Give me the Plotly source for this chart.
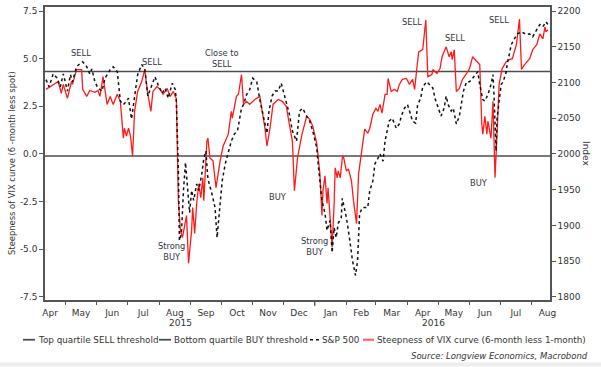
import pandas as pd
import plotly.graph_objects as go

# ---------------- data ----------------
start_date = "2015-04-11"          # day 0 of the offsets below
axis_end = "2016-08-19"

# Steepness of VIX curve (6-month less 1-month): day offsets from start_date, values
vix_day = [1, 5, 10, 13, 16, 18, 22, 26, 27, 31, 36, 37, 41, 44, 49, 52, 54, 57, 61, 64,
           67, 71, 74, 77, 78, 80, 82, 84, 86, 88, 91, 95, 98, 101, 104, 106, 110, 113, 116, 120,
           123, 126, 128, 129, 131, 133, 135, 137, 139, 141, 144, 145, 147, 149, 151, 153, 155, 156, 158, 159,
           160, 162, 165, 168, 172, 175, 180, 183, 184, 188, 190, 193, 195, 198, 201, 206, 211, 213, 216, 218,
           221, 224, 229, 233, 237, 240, 243, 245, 248, 252, 257, 260, 263, 267, 268, 270, 272, 273, 275, 277,
           278, 280, 282, 284, 285, 287, 288, 290, 292, 293, 296, 298, 301, 303, 306, 308, 311, 314, 317, 319,
           322, 325, 327, 329, 331, 334, 336, 337, 340, 343, 346, 348, 351, 355, 358, 361, 363, 365, 367, 371,
           372, 374, 376, 380, 381, 385, 388, 390, 394, 397, 399, 400, 402, 404, 407, 410, 414, 417, 420, 424,
           427, 429, 430, 432, 434, 435, 438, 440, 441, 442, 444, 446, 449, 453, 456, 459, 463, 466, 468, 471,
           476, 479, 483, 486, 489, 491, 492, 494]
vix_val = [3.39, 3.54, 3.70, 3.80, 3.18, 3.65, 2.92, 3.80, 3.65, 4.43, 4.43, 3.39, 3.02, 3.33, 3.23, 3.33, 3.02, 4.06, 2.60, 3.02,
           2.60, 3.13, 2.76, 0.83, 1.35, 0.94, 1.35, 0.94, -0.10, 2.24, 3.28, 3.80, 4.43, 3.13, 2.24, 3.28, 3.54, 3.39, 3.13, 3.44,
           3.02, 3.28, 3.02, 2.92, -2.45, -4.01, -4.38, -3.75, -3.23, -5.73, -4.01, -2.81, -4.17, -2.60, -1.56, -2.29, -1.25, -2.45, -0.73, 0.68,
           0.83, -0.21, -0.36, -1.77, -0.36, 0.42, 1.04, 2.24, 1.88, 3.02, 3.13, 4.17, 2.60, 2.76, 2.60, 2.86, 3.02, 2.40, 1.35, 0.42,
           1.35, 2.60, 2.86, 2.76, 2.50, 1.56, 0.68, -1.93, -0.21, 0.94, 1.98, 1.82, 1.46, 0.52, -0.10, -1.04, -3.23, -1.93, -1.15, -2.60,
           -1.77, -3.33, -4.90, -2.60, -0.73, -1.25, -0.89, -1.25, -0.21, -0.10, -0.89, -0.78, -1.41, -2.45, -3.65, -1.04, 0.16, 1.30, 1.09, 1.35,
           2.08, 2.40, 2.24, 2.60, 2.14, 3.13, 3.13, 3.96, 3.28, 3.39, 3.28, 3.65, 3.91, 3.96, 3.65, 3.91, 3.39, 4.48, 5.36, 5.47,
           6.04, 7.03, 4.06, 4.17, 4.43, 4.22, 4.48, 5.10, 5.62, 5.10, 5.36, 4.95, 5.47, 3.28, 3.44, 3.91, 4.22, 4.48, 5.10, 4.84,
           4.69, 1.56, 1.04, 1.98, 1.04, 1.72, 0.83, 2.76, 0.68, -1.25, 1.04, 3.65, 4.48, 4.84, 4.95, 5.00, 5.73, 7.08, 4.43, 4.69,
           5.00, 5.47, 5.73, 6.30, 6.04, 6.67, 6.41, 6.51]

# S&P 500 index: day offsets from start_date, values
spx_day = [1, 4, 8, 12, 15, 18, 22, 25, 27, 31, 34, 37, 41, 44, 46, 49, 52, 56, 59, 64,
           67, 71, 74, 77, 80, 82, 85, 88, 91, 95, 98, 101, 105, 108, 111, 115, 118, 121, 125, 128,
           129, 131, 132, 134, 136, 138, 140, 142, 144, 146, 149, 151, 154, 156, 158, 160, 164, 167, 169, 172,
           174, 177, 180, 183, 186, 189, 193, 195, 198, 201, 204, 208, 211, 214, 218, 220, 223, 226, 229, 232,
           235, 237, 240, 243, 247, 250, 253, 257, 260, 263, 267, 268, 272, 275, 277, 280, 282, 284, 286, 288,
           291, 292, 296, 299, 302, 305, 307, 309, 312, 317, 319, 322, 324, 327, 329, 332, 334, 336, 338, 341,
           345, 348, 350, 353, 356, 358, 361, 364, 366, 369, 371, 375, 378, 381, 383, 386, 389, 392, 394, 396,
           399, 401, 404, 407, 409, 411, 414, 417, 420, 423, 425, 427, 430, 432, 435, 438, 440, 441, 443, 444,
           446, 448, 450, 453, 454, 458, 461, 464, 468, 473, 476, 479, 483, 486, 489, 492, 494]
spx_val = [2104, 2094, 2112, 2106, 2094, 2112, 2088, 2111, 2101, 2122, 2126, 2129, 2122, 2112, 2119, 2101, 2092, 2088, 2106, 2118,
           2122, 2115, 2074, 2069, 2074, 2078, 2049, 2078, 2111, 2125, 2119, 2081, 2097, 2108, 2097, 2085, 2092, 2078, 2099, 2090,
           2074, 1976, 1879, 1889, 1949, 1988, 1953, 1918, 1949, 1935, 1958, 1949, 1972, 1994, 2004, 1965, 1944, 1925, 1883, 1925,
           1962, 1986, 2004, 2018, 2028, 2032, 2064, 2069, 2083, 2090, 2106, 2101, 2076, 2056, 2029, 2060, 2081, 2088, 2088, 2099,
           2083, 2071, 2056, 2032, 2018, 2060, 2064, 2053, 2046, 2032, 2008, 1990, 1935, 1917, 1893, 1907, 1862, 1897, 1883, 1903,
           1911, 1938, 1911, 1883, 1851, 1830, 1851, 1917, 1925, 1925, 1949, 1962, 1986, 1994, 2000, 1990, 2018, 2032, 2046, 2050,
           2036, 2042, 2053, 2064, 2069, 2060, 2046, 2043, 2069, 2078, 2094, 2101, 2097, 2092, 2078, 2064, 2053, 2064, 2081, 2069,
           2060, 2064, 2042, 2053, 2074, 2088, 2101, 2101, 2106, 2112, 2115, 2097, 2076, 2074, 2083, 2097, 2111, 2083, 2004, 2050,
           2074, 2097, 2101, 2115, 2126, 2153, 2161, 2168, 2171, 2167, 2168, 2164, 2174, 2181, 2178, 2185, 2181]

sell_threshold = 4.32
buy_threshold = -0.1

left_ticks = [-7.5, -5.0, -2.5, 0.0, 2.5, 5.0, 7.5]
right_ticks = [1800, 1850, 1900, 1950, 2000, 2050, 2100, 2150, 2200]

signals = [  # text, date, left-axis value
    ("SELL", "2015-05-16", 5.3),
    ("SELL", "2015-07-25", 4.85),
    ("Close to<br>SELL", "2015-10-02", 5.0),
    ("Strong<br>BUY", "2015-08-13", -5.1),
    ("BUY", "2015-11-26", -2.25),
    ("Strong<br>BUY", "2016-01-01", -4.85),
    ("SELL", "2016-04-05", 6.9),
    ("SELL", "2016-05-18", 6.1),
    ("SELL", "2016-06-30", 7.05),
    ("BUY", "2016-06-10", -1.5),
]

# ---------------- figure ----------------
t0 = pd.Timestamp(start_date)
vix_x = t0 + pd.to_timedelta(vix_day, unit="D")
spx_x = t0 + pd.to_timedelta(spx_day, unit="D")

FONT = "DejaVu Sans, Verdana, sans-serif"
NARROW = "Liberation Sans Narrow, DejaVu Sans Condensed, Liberation Sans, sans-serif"
TXT = "#333333"
AX = "#555555"
FS = 9

W, H = 601, 367
ML, MR, MT, MB = 45, 51, 5, 67
PW, PH = W - ML - MR, H - MT - MB


def xp(px):
    return (px - ML) / PW


def yp(py):
    return (H - MB - py) / PH


def paper_text(x, y, text, size, xanchor="center", family=FONT, **kw):
    return dict(x=xp(x), y=yp(y), xref="paper", yref="paper", showarrow=False,
                text=text, xanchor=xanchor, yanchor="middle",
                font=dict(size=size, color=TXT, family=family), **kw)


fig = go.Figure()
fig.add_trace(go.Scatter(x=[start_date, axis_end], y=[sell_threshold] * 2, mode="lines",
                         line=dict(color="#4d4d4d", width=1.5), name="Top quartile SELL threshold",
                         showlegend=False, hoverinfo="skip"))
fig.add_trace(go.Scatter(x=[start_date, axis_end], y=[buy_threshold] * 2, mode="lines",
                         line=dict(color="#4d4d4d", width=1.5), name="Bottom quartile BUY threshold",
                         showlegend=False, hoverinfo="skip"))
fig.add_trace(go.Scatter(x=spx_x, y=spx_val, yaxis="y2", mode="lines",
                         line=dict(color="#111111", width=1.5, dash="dot"), name="S&P 500",
                         showlegend=False))
fig.add_trace(go.Scatter(x=vix_x, y=vix_val, mode="lines",
                         line=dict(color="#ff1a1a", width=1.3),
                         name="Steepness of VIX curve (6-month less 1-month)", showlegend=False))

left_lo, left_hi = -7.66, 7.71
k = 200 / 7.5
fig.update_layout(
    width=W, height=H,
    margin=dict(l=ML, r=MR, t=MT, b=MB),
    paper_bgcolor="white", plot_bgcolor="white",
    font=dict(family=FONT, size=FS, color=TXT),
    showlegend=False,
    xaxis=dict(range=[start_date, axis_end], type="date", dtick="M1", tick0="2015-05-01",
               ticklabelmode="period", tickformat="%b", ticks="outside", ticklen=3,
               tickcolor=AX, showline=True, linecolor=AX, linewidth=1.5, mirror=True,
               showgrid=False, zeroline=False, tickfont=dict(size=FS, color=TXT)),
    yaxis=dict(range=[left_lo, left_hi], tickvals=left_ticks,
               ticktext=[f"{v:.1f}" for v in left_ticks], ticks="outside", ticklen=4,
               tickcolor=AX, showline=True, linecolor=AX, linewidth=1.5, mirror=True,
               showgrid=False, zeroline=False, tickfont=dict(size=FS, color=TXT)),
    yaxis2=dict(range=[2000 + left_lo * k, 2000 + left_hi * k], tickvals=right_ticks,
                overlaying="y", side="right", ticks="outside", ticklen=4, tickcolor=AX,
                showline=True, linecolor=AX, linewidth=1.5, showgrid=False, zeroline=False,
                tickfont=dict(size=FS, color=TXT)),
)

ann = []
for text, d, v in signals:
    ann.append(dict(x=d, y=v, xref="x", yref="y", text=text, showarrow=False,
                    xanchor="center", yanchor="middle",
                    font=dict(size=8.3, color="#333344"), align="center"))

# axis titles
ann.append(paper_text(12, 162, "Steepness of VIX curve (6 -month less spot)", 9.3,
                      family=NARROW, textangle=-90))
ann.append(paper_text(586, 152, "Index", FS, textangle=90))
# year labels
ann.append(paper_text(180, 323, "2015", FS))
ann.append(paper_text(433, 323, "2016", FS))

# custom legend
leg_y = 340
legend_items = [
    (23, 35, "#4d4d4d", "solid", 1.8, "Top quartile SELL threshold"),
    (159, 171, "#4d4d4d", "solid", 1.8, "Bottom quartile BUY threshold"),
    (310, 319, "#111111", "dot", 1.7, "S&P 500"),
    (363, 374, "#ff6666", "solid", 2.2, "Steepness of VIX curve (6-month less 1-month)"),
]
shapes = []
for x0, x1, col, dash, w, label in legend_items:
    shapes.append(dict(type="line", xref="paper", yref="paper", x0=xp(x0), x1=xp(x1),
                       y0=yp(leg_y), y1=yp(leg_y), line=dict(color=col, width=w, dash=dash)))
    ann.append(paper_text(x1 + 1, leg_y, label, 8.8, xanchor="left"))

ann.append(paper_text(590, 356, "<i>Source: Longview Economics, Macrobond</i>", 8.5, xanchor="right"))

# longer tick at the year boundary
shapes.append(dict(type="line", xref="x", yref="paper", x0="2016-01-01", x1="2016-01-01",
                   y0=0, y1=-6 / PH, line=dict(color=AX, width=1.2)))
# light band at the bottom of the picture
shapes.append(dict(type="rect", xref="paper", yref="paper", x0=xp(0), x1=xp(W),
                   y0=yp(H), y1=yp(363), fillcolor="#eeeeee", line=dict(width=0), layer="below"))

fig.update_layout(annotations=ann, shapes=shapes)
fig.write_html("out.html", config={"displayModeBar": False},
               post_script="document.body.style.margin='0';")
